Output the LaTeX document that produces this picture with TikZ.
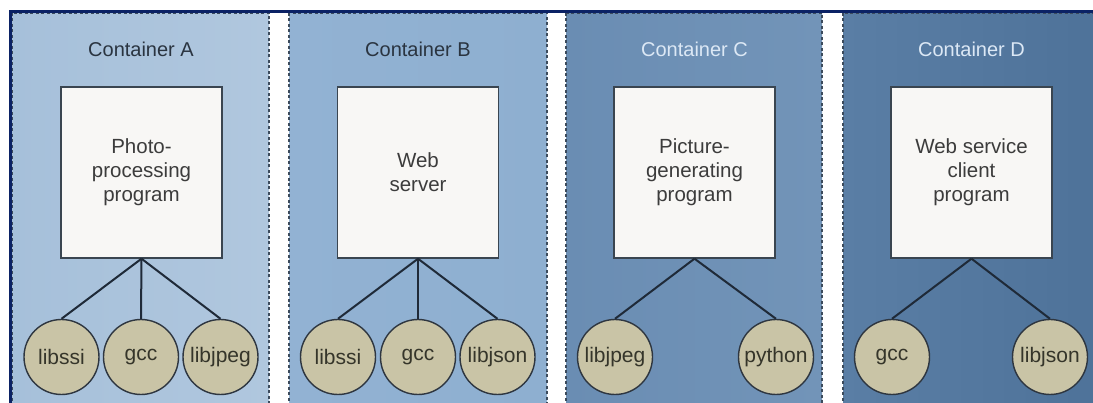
\documentclass[tikz,border=0pt]{standalone}
\usepackage{fontspec}
\setmainfont{Liberation Sans}
\definecolor{navy}{HTML}{0B2265}
\definecolor{dashcol}{HTML}{3C4B5C}
\definecolor{linkcol}{HTML}{1F2A38}
\definecolor{boxfill}{HTML}{F8F7F5}
\definecolor{boxline}{HTML}{3A4550}
\definecolor{libfill}{HTML}{C9C4A6}
\definecolor{libline}{HTML}{2E3640}
\definecolor{darktitle}{HTML}{2A3440}
\definecolor{lighttitle}{HTML}{DCE8F5}
\definecolor{progtext}{HTML}{3C3C3C}
\definecolor{libtext}{HTML}{35352A}
\definecolor{aL}{HTML}{A6C0DA}\definecolor{aR}{HTML}{B0C7DE}
\definecolor{bL}{HTML}{92B2D3}\definecolor{bR}{HTML}{8EAFD0}
\definecolor{cL}{HTML}{6A8DB3}\definecolor{cR}{HTML}{7294B8}
\definecolor{dL}{HTML}{5A7EA5}\definecolor{dR}{HTML}{4E7299}
\tikzset{
  cborder/.style={draw=dashcol, line width=1.4pt, dash pattern=on 3pt off 2.5pt},
  ctitle/.style={font=\fontsize{20}{24}\selectfont, anchor=center},
  prog/.style={draw=boxline, line width=1.4pt, fill=boxfill, minimum width=161pt,
    minimum height=171pt, align=center, text=progtext,
    font=\fontsize{20.5}{24}\selectfont, inner sep=0pt},
  lib/.style={circle, draw=libline, line width=1.4pt, fill=libfill, minimum size=75pt,
    inner sep=0pt, text=libtext, font=\fontsize{21}{24}\selectfont},
  link/.style={draw=linkcol, line width=2pt}
}
\begin{document}
\begin{tikzpicture}[x=1pt,y=-1pt]
\useasboundingbox (0,0) rectangle (1093,403);
\fill[white] (0,0) rectangle (1093,403);
\begin{scope}
\clip (0,0) rectangle (1093,403);
% container panels
\shade[left color=aL, right color=aR] (12,13) rectangle (269,410);
\shade[left color=bL, right color=bR] (289,13) rectangle (547,410);
\shade[left color=cL, right color=cR] (566,13) rectangle (822,410);
\shade[left color=dL, right color=dR] (843,13) rectangle (1100,410);
\draw[cborder] (12,13) rectangle (269,410);
\draw[cborder] (289,13) rectangle (547,410);
\draw[cborder] (566,13) rectangle (822,410);
\draw[cborder] (843,13) rectangle (1100,410);
% frame
\draw[navy, line width=3pt] (10,420) -- (10,11.5) -- (1100,11.5);
\end{scope}

% titles
\node[ctitle, text=darktitle] (tA) at (141,49) {Container A};
\node[ctitle, text=darktitle] (tB) at (418,49) {Container B};
\node[ctitle, text=lighttitle] (tC) at (694.5,49) {Container C};
\node[ctitle, text=lighttitle] (tD) at (971.5,49) {Container D};

% programs
\node[prog] (pA) at (141.5,172.5) {Photo-\\processing\\program};
\node[prog] (pB) at (418,172.5) {Web\\server};
\node[prog] (pC) at (694.5,172.5) {Picture-\\generating\\program};
\node[prog] (pD) at (971.5,172.5) {Web service\\client\\program};

% libraries
\node[lib] (a1) at (61.5,357) {libssi};
\node[lib] (a2) at (141,357) {gcc};
\node[lib] (a3) at (220.5,357) {libjpeg};
\node[lib] (b1) at (338,357) {libssi};
\node[lib] (b2) at (418,357) {gcc};
\node[lib] (b3) at (497.5,357) {libjson};
\node[lib] (c1) at (615,357) {libjpeg};
\node[lib] (c2) at (776,357) {python};
\node[lib] (d1) at (892,357) {gcc};
\node[lib] (d2) at (1050,357) {libjson};

% dependencies
\foreach \p/\l in {pA/a1,pA/a2,pA/a3,pB/b1,pB/b2,pB/b3,pC/c1,pC/c2,pD/d1,pD/d2}
  \draw[link] (\p.south) -- (\l.north);
\end{tikzpicture}
\end{document}
